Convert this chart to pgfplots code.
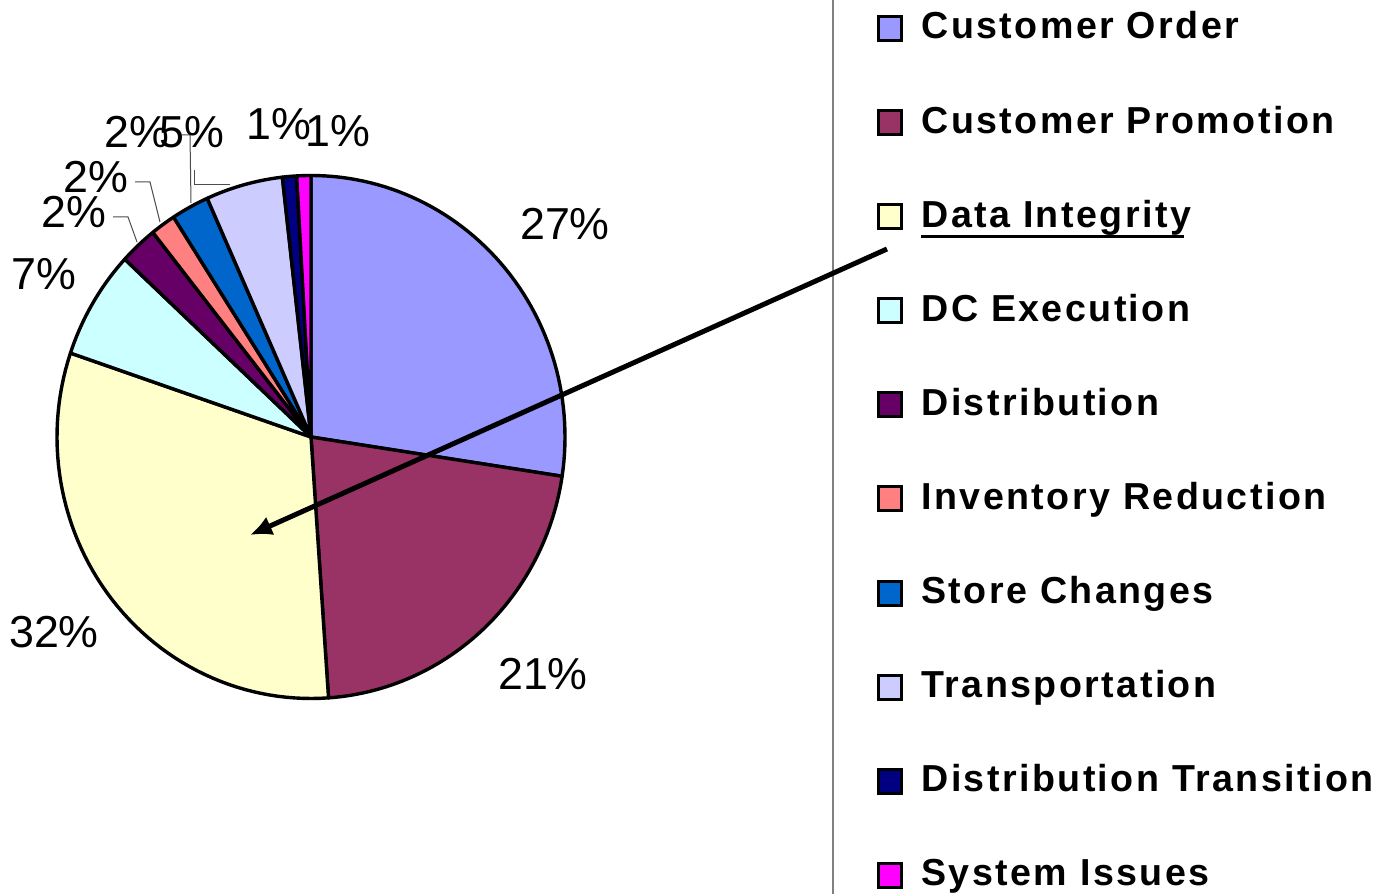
\documentclass[border=0pt]{standalone}
\usepackage{pgfplots}
\pgfplotsset{compat=1.18}
\usepackage{fontspec}
\setmainfont{Liberation Sans}
\newfontfamily\legfont[LetterSpace=6.5]{Liberation Sans}
\usetikzlibrary{arrows.meta}
\definecolor{cCO}{HTML}{9999FF}
\definecolor{cCP}{HTML}{993366}
\definecolor{cDI}{HTML}{FFFFCC}
\definecolor{cDC}{HTML}{CCFFFF}
\definecolor{cDS}{HTML}{660066}
\definecolor{cIR}{HTML}{FF8080}
\definecolor{cSC}{HTML}{0066CC}
\definecolor{cTR}{HTML}{CCCCFF}
\definecolor{cDT}{HTML}{000080}
\definecolor{cSI}{HTML}{FF00FF}
\def\cum{0}
\newcommand\slice[2]{%
  \pgfmathsetmacro\slA{90-3.6*(\cum+#1)}%
  \pgfmathsetmacro\slB{90-3.6*\cum}%
  \edef\doslice{\noexpand\addplot[data cs=polar, fill=#2, draw=black, line width=1.7pt, line join=round, domain=\slA:\slB, samples=60] {1} -- (axis cs:0,0) -- cycle;}%
  \doslice
  \pgfmathsetmacro\newcum{\cum+#1}%
  \global\let\cum\newcum
}
\begin{document}
\begin{tikzpicture}
\path[use as bounding box] (0,0) rectangle (693pt,447pt);
\begin{axis}[at={(155.5pt,228.5pt)}, anchor=origin, x=127pt, y=130.75pt,
  xmin=-1.05, xmax=1.05, ymin=-1.05, ymax=1.05, hide axis, clip=false]
% percentages, clockwise from 12 o'clock
\slice{27.4}{cCO}% Customer Order
\slice{21.5}{cCP}% Customer Promotion
\slice{31.3}{cDI}% Data Integrity
\slice{6.7}{cDC}%  DC Execution
\slice{2.4}{cDS}%  Distribution
\slice{1.6}{cIR}%  Inventory Reduction
\slice{2.4}{cSC}%  Store Changes
\slice{4.9}{cTR}%  Transportation
\slice{0.9}{cDT}%  Distribution Transition
\slice{0.9}{cSI}%  System Issues
\end{axis}
\begin{scope}[x=0.5pt, y=-0.5pt, yshift=447pt]
  \draw[gray, line width=0.6pt] (833,0) -- (833,894);
  % leader lines
  \draw[black!70, line width=0.5pt] (113,217) -- (128,217) -- (137,242);
  \draw[black!70, line width=0.5pt] (135,182) -- (150,182) -- (160,222);
  \draw[black!70, line width=0.5pt] (182,135) -- (190,135) -- (191,203);
  \draw[black!70, line width=0.5pt] (194,170) -- (194,185) -- (230,185);
  % percent labels
  \begin{scope}[every node/.style={anchor=base, inner sep=0pt, font=\fontsize{22.4}{26}\selectfont}]
  \node at (565,240) {27\%};
  \node at (543,690) {21\%};
  \node at (54,648) {32\%};
  \node at (44,290) {7\%};
  \node at (74,228) {2\%};
  \node at (96,193) {2\%};
  \node at (137,148) {2\%};
  \node at (192,148) {5\%};
  \node at (279,140) {1\%};
  \node at (338,147) {1\%};
  \end{scope}
  % legend
  \foreach \n/\c [count=\i from 0] in {Customer Order/cCO, Customer Promotion/cCP, Data Integrity/cDI, DC Execution/cDC, Distribution/cDS, Inventory Reduction/cIR, Store Changes/cSC, Transportation/cTR, Distribution Transition/cDT, System Issues/cSI}{
    \pgfmathsetmacro\by{39+94.1*\i}
    \draw[fill=\c, line width=1.5pt] (878.5,\by-22.5) rectangle (901.5,\by+1.5);
    \node[anchor=base west, inner sep=0pt, font=\legfont\bfseries\fontsize{18.8}{22}\selectfont] at (921,\by) {\n};
  }
  \draw[line width=1.5pt] (921,237) -- (1184,237);
  % arrow
  \draw[line width=2.5pt, -{Latex[length=11pt,width=10pt]}] (887,249) -- (250,535);
\end{scope}
\end{tikzpicture}
\end{document}
